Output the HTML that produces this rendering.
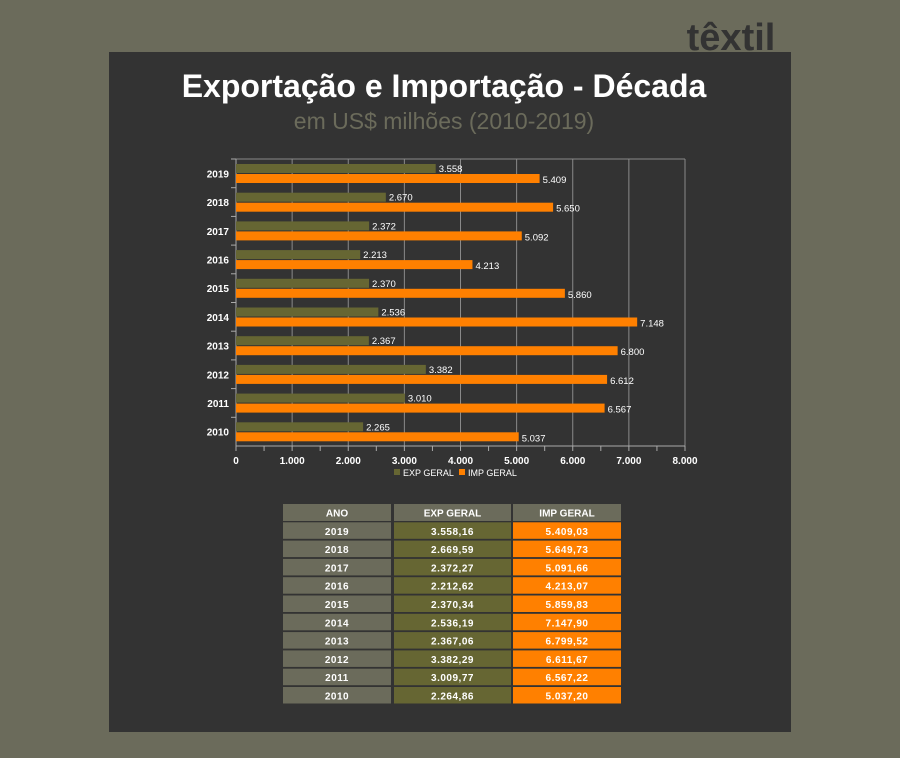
<!DOCTYPE html>
<html><head><meta charset="utf-8"><style>
body{margin:0;width:900px;height:753px;background:#6b6b5b;overflow:hidden;font-family:"Liberation Sans",sans-serif}
</style></head><body>
<svg id="c" width="900" height="753" xmlns="http://www.w3.org/2000/svg">
<text x="731" y="50" text-anchor="middle" font-size="38" font-weight="bold" fill="#333" font-family="Liberation Sans, sans-serif">têxtil</text>
<rect x="109" y="52" width="682" height="680" fill="#333333"/>
<text x="444" y="97" text-anchor="middle" font-size="32" font-weight="bold" fill="#fff">Exportação e Importação - Década</text>
<text x="444" y="129" text-anchor="middle" font-size="23" fill="#6b6b5b">em US$ milhões (2010-2019)</text>
<g id="plot"></g>
<g id="tbl"></g>
</svg>
<script>
const years=["2019","2018","2017","2016","2015","2014","2013","2012","2011","2010"];
const expVals=[3558.16,2669.59,2372.27,2212.62,2370.34,2536.19,2367.06,3382.29,3009.77,2264.86];
const impVals=[5409.03,5649.73,5091.66,4213.07,5859.83,7147.90,6799.52,6611.67,6567.22,5037.20];
const xTicks=[0,1000,2000,3000,4000,5000,6000,7000,8000];
const NS="http://www.w3.org/2000/svg";
const X0=236,X1=685,Y0=159,Y1=446,XMAX=8000;
const xs=v=>X0+(v/XMAX)*(X1-X0);
const band=(Y1-Y0)/years.length;
const fmtInt=v=>Math.round(v).toLocaleString('de-DE');
const fmt2=v=>v.toLocaleString('de-DE',{minimumFractionDigits:2,maximumFractionDigits:2});
function el(tag,a,parent,txt){const e=document.createElementNS(NS,tag);for(const k in a)e.setAttribute(k,a[k]);if(txt!==undefined)e.textContent=txt;parent.appendChild(e);return e;}
const plot=document.getElementById('plot');
// gridlines
xTicks.forEach((t,i)=>{
  if(i>0){const g=el('line',{x1:xs(t),x2:xs(t),y1:Y0,y2:Y1,stroke:'#8a8a8a','stroke-width':1},plot);
  
  }
  const lb=el('text',{x:xs(t),y:464,'text-anchor':'middle','font-size':10,'font-weight':'bold',fill:'#fff'},plot,t===0?'0':fmtInt(t));
  
  
});
for(let v=0;v<=XMAX;v+=500){const tk=el('line',{x1:xs(v),x2:xs(v),y1:Y1,y2:Y1+5,stroke:'#aaa'},plot);

}
el('line',{x1:X0,x2:X1,y1:Y0,y2:Y0,stroke:'#8a8a8a'},plot);
const ax=el('line',{x1:X0,x2:X1,y1:Y1,y2:Y1,stroke:'#aaa'},plot);


const ay=el('line',{x1:X0,x2:X0,y1:Y0,y2:Y1,stroke:'#aaa'},plot);


years.forEach((y,i)=>{
  const top=Y0+i*band;
  el('line',{x1:X0-5,x2:X0,y1:top,y2:top,stroke:'#aaa'},plot);
  const yl=el('text',{x:229,y:top+band/2+4,'text-anchor':'end','font-size':10,'font-weight':'bold',fill:'#fff'},plot,y);
  
  
  const b1=el('rect',{x:X0,y:top+5,width:xs(expVals[i])-X0,height:9,fill:'#666633'},plot);
  
  
  const b2=el('rect',{x:X0,y:top+15,width:xs(impVals[i])-X0,height:9,fill:'#ff8000'},plot);
  
  
  const l1=el('text',{x:xs(expVals[i])+3,y:top+13,'font-size':9.5,fill:'#fff'},plot,fmtInt(expVals[i]));
  
  
  const l2=el('text',{x:xs(impVals[i])+3,y:top+24,'font-size':9.5,fill:'#fff'},plot,fmtInt(impVals[i]));
  
  
});
// legend
const lg=el('g',{},plot);


el('rect',{x:394,y:469,width:6,height:6,fill:'#666633'},lg);
el('text',{x:403,y:476,'font-size':9,fill:'#fff'},lg,'EXP GERAL');
el('rect',{x:459,y:469,width:6,height:6,fill:'#ff8000'},lg);
el('text',{x:468,y:476,'font-size':9,fill:'#fff'},lg,'IMP GERAL');
// table
const tbl=document.getElementById('tbl');
const cols=[[283,108],[394,117],[513,108]];
const hdr=['ANO','EXP GERAL','IMP GERAL'];
const rowY=i=>504+i*18.3;
hdr.forEach((h,c)=>{
  const r=el('rect',{x:cols[c][0],y:rowY(0),width:cols[c][1],height:17,fill:'#6b6b5b'},tbl);
  
  
  el('text',{x:cols[c][0]+cols[c][1]/2,y:rowY(0)+12.5,'text-anchor':'middle','font-size':10,'font-weight':'bold',fill:'#fff'},tbl,h);
});
years.forEach((y,i)=>{
  const vals=[y,fmt2(expVals[i]),fmt2(impVals[i])];
  const fills=['#6b6b5b','#666633','#ff8000'];
  vals.forEach((v,c)=>{
    const r=el('rect',{x:cols[c][0],y:rowY(i+1),width:cols[c][1],height:16.5,fill:fills[c]},tbl);
    
    
    el('text',{x:cols[c][0]+cols[c][1]/2,y:rowY(i+1)+12.5,'text-anchor':'middle','font-size':10,'font-weight':'bold',fill:'#fff','letter-spacing':0.5},tbl,v);
  });
});
</script>
</body></html>
